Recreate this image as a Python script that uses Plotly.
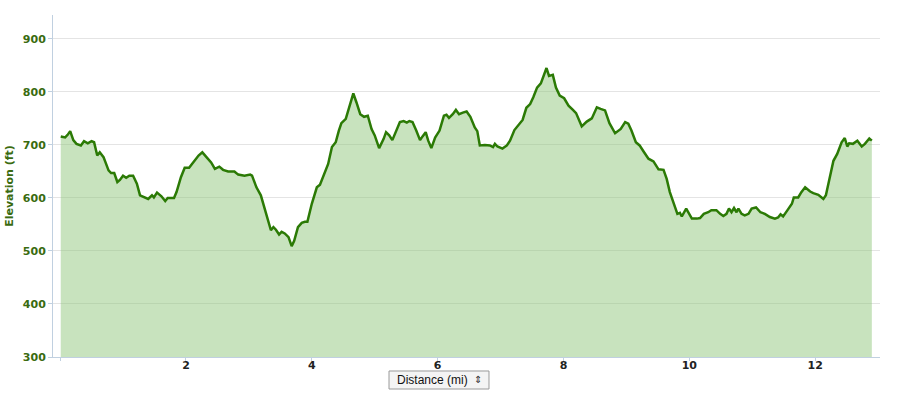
import plotly.graph_objects as go

distance_mi = [
    0.01, 0.08, 0.12, 0.16, 0.21, 0.26, 0.33, 0.38, 0.44, 0.50, 0.54, 0.59, 0.63, 0.69,
    0.77, 0.81, 0.86, 0.91, 0.95, 1.00, 1.05, 1.10, 1.16, 1.22, 1.27, 1.35, 1.40, 1.46,
    1.49, 1.54, 1.61, 1.67, 1.71, 1.81, 1.85, 1.92, 1.98, 2.05, 2.12, 2.20, 2.26, 2.33,
    2.40, 2.46, 2.53, 2.59, 2.67, 2.77, 2.83, 2.93, 3.02, 3.05, 3.12, 3.19, 3.27, 3.35,
    3.39, 3.43, 3.48, 3.52, 3.57, 3.63, 3.68, 3.72, 3.78, 3.84, 3.89, 3.93, 4.00, 4.08,
    4.13, 4.18, 4.26, 4.32, 4.38, 4.43, 4.47, 4.54, 4.61, 4.66, 4.71, 4.77, 4.83, 4.89,
    4.95, 5.00, 5.07, 5.14, 5.18, 5.23, 5.28, 5.35, 5.40, 5.46, 5.51, 5.55, 5.60, 5.66,
    5.72, 5.76, 5.81, 5.85, 5.90, 5.96, 6.03, 6.10, 6.14, 6.18, 6.24, 6.29, 6.34, 6.40,
    6.46, 6.52, 6.59, 6.63, 6.67, 6.75, 6.83, 6.88, 6.91, 6.95, 7.03, 7.10, 7.15, 7.22,
    7.28, 7.35, 7.41, 7.47, 7.52, 7.58, 7.64, 7.69, 7.73, 7.77, 7.83, 7.88, 7.94, 8.01,
    8.08, 8.15, 8.20, 8.29, 8.37, 8.45, 8.53, 8.59, 8.66, 8.73, 8.82, 8.91, 8.98, 9.03,
    9.08, 9.15, 9.21, 9.27, 9.35, 9.43, 9.51, 9.59, 9.64, 9.69, 9.76, 9.81, 9.85, 9.88,
    9.95, 9.98, 10.04, 10.12, 10.17, 10.23, 10.30, 10.35, 10.43, 10.49, 10.54, 10.59,
    10.63, 10.67, 10.71, 10.75, 10.78, 10.83, 10.88, 10.94, 10.99, 11.06, 11.13, 11.20,
    11.28, 11.36, 11.41, 11.45, 11.49, 11.56, 11.63, 11.66, 11.73, 11.78, 11.84, 11.92,
    11.97, 12.05, 12.13, 12.17, 12.22, 12.29, 12.35, 12.42, 12.47, 12.51, 12.54, 12.60,
    12.67, 12.74, 12.79, 12.86, 12.90,
]

elevation_ft = [
    716, 714, 719, 726, 709, 702, 699, 707, 703, 707, 705, 680, 686, 677,
    652, 647, 647, 630, 634, 642, 638, 642, 642, 627, 605, 600, 598, 605,
    601, 610, 603, 594, 600, 600, 611, 639, 657, 657, 667, 680, 686, 676,
    667, 655, 659, 653, 650, 650, 644, 642, 644, 642, 620, 605, 570, 539,
    545, 540, 531, 536, 533, 526, 509, 519, 545, 553, 555, 555, 589, 620,
    625, 639, 664, 696, 705, 727, 741, 749, 776, 797, 780, 758, 753, 755,
    730, 718, 694, 711, 724, 718, 709, 730, 743, 745, 742, 745, 743, 727,
    709, 716, 724, 708, 694, 714, 727, 755, 757, 751, 758, 766, 758, 761,
    763, 753, 733, 726, 699, 700, 699, 696, 702, 697, 693, 699, 708, 728,
    736, 747, 770, 777, 790, 808, 816, 832, 845, 830, 832, 808, 793, 788,
    774, 766, 760, 735, 744, 750, 771, 768, 765, 741, 722, 730, 743, 740,
    727, 705, 699, 688, 674, 669, 654, 653, 636, 611, 589, 570, 572, 565,
    580, 573, 561, 561, 562, 570, 573, 577, 577, 570, 566, 570,
    580, 573, 581, 573, 580, 570, 567, 570, 580, 582, 573, 570,
    564, 561, 563, 569, 565, 577, 589, 601, 601, 611, 620, 612,
    609, 606, 598, 605, 633, 670, 683, 705, 713, 697, 703, 702,
    708, 697, 702, 712, 708,
]

x_tick_values = [0, 2, 4, 6, 8, 10, 12]
x_tick_labels = ["", "2", "4", "6", "8", "10", "12"]
y_tick_values = [300, 400, 500, 600, 700, 800, 900]

LABEL_GREEN = "#3a6b10"
AXIS_COLOR = "#c0d0e0"

fig = go.Figure()
fig.add_trace(go.Scatter(
    x=distance_mi,
    y=elevation_ft,
    mode="lines",
    line=dict(color="#2b7a05", width=2.5),
    fill="tozeroy",
    fillcolor="rgba(140,196,120,0.48)",
    hoverinfo="skip",
))

fig.update_layout(
    width=903,
    height=394,
    margin=dict(l=53, r=23, t=15, b=37),
    paper_bgcolor="white",
    plot_bgcolor="white",
    showlegend=False,
    font=dict(family="DejaVu Sans", size=11),
    xaxis=dict(
        range=[-0.113, 13.03],
        tickvals=x_tick_values,
        ticktext=x_tick_labels,
        showgrid=False,
        zeroline=False,
        showline=True,
        linecolor=AXIS_COLOR,
        linewidth=1,
        ticks="outside",
        ticklen=3,
        tickcolor=AXIS_COLOR,
        ticklabelstandoff=-5,
        automargin=False,
        tickfont=dict(family="DejaVu Sans", size=11, color="#222222", weight="bold"),
    ),
    yaxis=dict(
        range=[300, 945],
        tickvals=y_tick_values,
        showgrid=True,
        gridcolor="#e4e4e4",
        gridwidth=1,
        zeroline=False,
        showline=True,
        linecolor=AXIS_COLOR,
        linewidth=1,
        ticks="outside",
        ticklen=4,
        tickcolor=AXIS_COLOR,
        automargin=False,
        tickfont=dict(family="DejaVu Sans", size=11, color=LABEL_GREEN, weight="bold"),
        title=dict(
            text="Elevation (ft)",
            font=dict(family="DejaVu Sans", size=11, color=LABEL_GREEN, weight="bold"),
            standoff=6,
        ),
    ),
)

# dropdown-style selector box below the axis (drawn beneath the axis labels)
fig.add_shape(
    type="rect", xref="paper", yref="paper",
    x0=0.4063, x1=0.5272, y0=-0.0936, y1=-0.0409,
    fillcolor="#f4f4f4",
    line=dict(color="#9a9a9a", width=1),
    layer="below",
)
fig.add_annotation(
    xref="paper", yref="paper",
    x=0.4583, y=-0.067,
    xanchor="center", yanchor="middle",
    text="Distance (mi)",
    showarrow=False,
    font=dict(family="Liberation Sans", size=12, color="#111111"),
)
fig.add_annotation(
    xref="paper", yref="paper",
    x=0.5139, y=-0.067,
    xanchor="center", yanchor="middle",
    text="\u21d5",
    showarrow=False,
    font=dict(family="DejaVu Sans", size=10, color="#333333"),
)

fig.write_html("out.html")
